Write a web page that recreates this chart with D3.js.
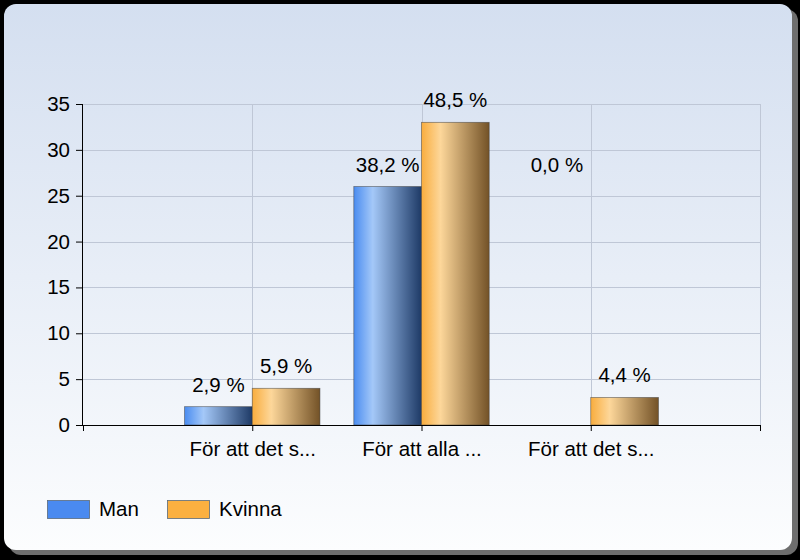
<!DOCTYPE html>
<html>
<head>
<meta charset="utf-8">
<script src="https://cdn.jsdelivr.net/npm/d3@7"></script>
<style>
  body { margin: 0; background: #000; }
  svg { display: block; font-family: "Liberation Sans", Arial, sans-serif; }
</style>
</head>
<body>
<script>
const categories = ["För att det s...", "För att alla ...", "För att det s..."];
const seriesNames = ["Man", "Kvinna"];
const manValues = [2, 26, 0];
const kvinnaValues = [4, 33, 3];
const manLabels = ["2,9 %", "38,2 %", "0,0 %"];
const kvinnaLabels = ["5,9 %", "48,5 %", "4,4 %"];
const yTicks = [0, 5, 10, 15, 20, 25, 30, 35];

const w = 800, h = 560;
const plotLeft = 83, plotRight = 760, plotTop = 104, plotBottom = 425;
const fs = 20.5;

const svg = d3.select("body").append("svg")
  .attr("width", w)
  .attr("height", h);

const defs = svg.append("defs");

// panel background
const bg = defs.append("linearGradient").attr("id", "bg")
  .attr("x1", 0).attr("y1", 0).attr("x2", 0).attr("y2", 1);
bg.append("stop").attr("offset", "0%").attr("stop-color", "#d4dff0");
bg.append("stop").attr("offset", "100%").attr("stop-color", "#fcfdfe");

function barGradient(id, c0, c1, c2) {
  const g = defs.append("linearGradient").attr("id", id)
    .attr("x1", 0).attr("y1", 0).attr("x2", 1).attr("y2", 0);
  g.append("stop").attr("offset", "0%").attr("stop-color", c0);
  g.append("stop").attr("offset", "28%").attr("stop-color", c1);
  g.append("stop").attr("offset", "100%").attr("stop-color", c2);
}
barGradient("gMan", "#4a8cf0", "#a4c8f8", "#1e3a66");
barGradient("gKvinna", "#f9ad3e", "#fdd79a", "#735227");

const colors = { Man: "#4a8af0", Kvinna: "#fbb040" };

// shadow + panel
svg.append("rect")
  .attr("x", 9).attr("y", 9).attr("width", 789).attr("height", 546)
  .attr("rx", 12).attr("fill", "#6e6e6e");
svg.append("rect")
  .attr("x", 4).attr("y", 4).attr("width", 788).attr("height", 546)
  .attr("rx", 12).attr("fill", "url(#bg)");

// scales
const x = d3.scaleLinear().domain([0, categories.length + 1]).range([plotLeft, plotRight]);
const y = d3.scaleLinear().domain([0, 35]).range([plotBottom, plotTop]);
const unit = x(1) - x(0);
const barW = unit * 0.4;

// grid
svg.append("g").selectAll("line")
  .data(yTicks.filter(d => d > 0))
  .enter().append("line")
  .attr("x1", plotLeft).attr("x2", plotRight)
  .attr("y1", d => Math.round(y(d)) + 0.5).attr("y2", d => Math.round(y(d)) + 0.5)
  .attr("stroke", "#bfc7d6").attr("stroke-width", 1);

svg.append("g").selectAll("line")
  .data(d3.range(1, categories.length + 2))
  .enter().append("line")
  .attr("x1", d => Math.round(x(d)) + 0.5).attr("x2", d => Math.round(x(d)) + 0.5)
  .attr("y1", plotTop).attr("y2", plotBottom)
  .attr("stroke", "#bfc7d6").attr("stroke-width", 1);

// bars
const series = [
  { name: "Man", values: manValues, labels: manLabels, grad: "url(#gMan)", off: -1 },
  { name: "Kvinna", values: kvinnaValues, labels: kvinnaLabels, grad: "url(#gKvinna)", off: 0 }
];

series.forEach(s => {
  const g = svg.append("g");
  g.selectAll("rect")
    .data(s.values)
    .enter().append("rect")
    .filter(d => d > 0)
    .attr("x", (d, i) => x(i + 1) + s.off * barW)
    .attr("y", d => y(d))
    .attr("width", barW)
    .attr("height", d => y(0) - y(d))
    .attr("fill", s.grad)
    .attr("stroke", "#3a3a3a")
    .attr("stroke-opacity", 0.6)
    .attr("stroke-width", 0.8);

  g.selectAll("text")
    .data(s.values)
    .enter().append("text")
    // a zero bar keeps its label where the previous bar's label sat
    .attr("x", (d, i) => x(i + 1) + s.off * barW + barW / 2)
    .attr("y", (d, i) => y(d > 0 ? d : s.values[i - 1]) - 15)
    .attr("text-anchor", "middle")
    .attr("font-size", fs)
    .attr("fill", "#000")
    .text((d, i) => s.labels[i]);
});

// axes
const yAxis = d3.axisLeft(y).tickValues(yTicks).tickSize(7).tickPadding(6);
const ya = svg.append("g").attr("transform", `translate(${plotLeft},0)`).call(yAxis);
ya.select(".domain").attr("d", `M-0.5,${plotTop}V${plotBottom + 0.5}`).attr("stroke", "#000");
ya.selectAll("text").attr("font-size", fs).attr("font-family", "Liberation Sans, Arial, sans-serif").attr("fill", "#000");

const xAxis = d3.axisBottom(x)
  .tickValues(d3.range(0, categories.length + 2))
  .tickSize(6)
  .tickFormat(d => (d >= 1 && d <= categories.length) ? categories[d - 1] : "")
  .tickPadding(10);
const xa = svg.append("g").attr("transform", `translate(0,${plotBottom})`).call(xAxis);
xa.select(".domain").attr("d", `M${plotLeft},0.5H${plotRight}`).attr("stroke", "#000");
xa.selectAll("text").attr("font-size", fs).attr("font-family", "Liberation Sans, Arial, sans-serif").attr("fill", "#000");

// legend
const legend = svg.append("g").attr("transform", "translate(47,500)");
const legX = d3.scaleOrdinal().domain(seriesNames).range([0, 120]);
seriesNames.forEach(n => {
  legend.append("rect")
    .attr("x", legX(n) + 0.5).attr("y", 0.5)
    .attr("width", 42).attr("height", 18)
    .attr("fill", colors[n])
    .attr("stroke", "#5a6a7a").attr("stroke-width", 0.8);
  legend.append("text")
    .attr("x", legX(n) + 52).attr("y", 16)
    .attr("font-size", fs)
    .text(n);
});
</script>
</body>
</html>
